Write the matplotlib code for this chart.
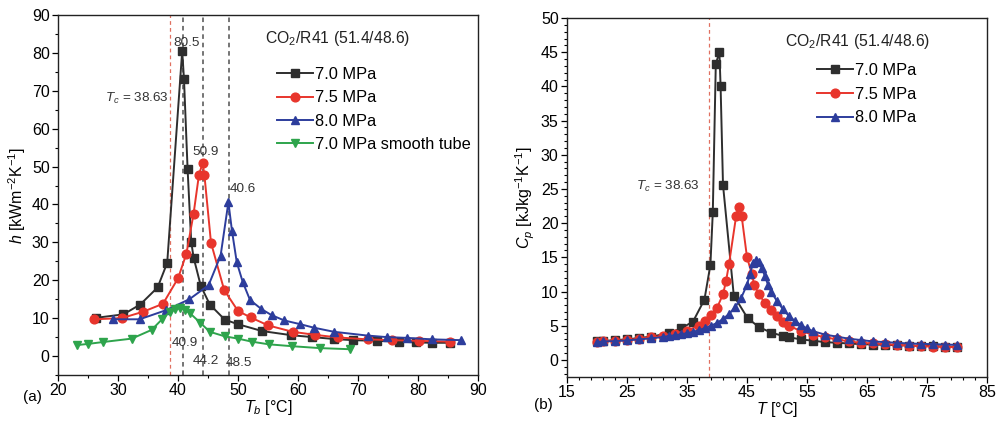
import matplotlib
matplotlib.use("Agg")
import matplotlib.pyplot as plt
from matplotlib.ticker import MultipleLocator

plt.rcParams['font.family'] = ['Liberation Sans', 'DejaVu Sans']
plt.rcParams['mathtext.fontset'] = 'custom'
plt.rcParams['mathtext.rm'] = 'Liberation Sans'
plt.rcParams['mathtext.it'] = 'Liberation Sans:italic'
plt.rcParams['mathtext.bf'] = 'Liberation Sans:bold'

# ---------------- (a) heat transfer coefficient ----------------
a_70_T = [26.4, 30.9, 33.7, 36.6, 38.2, 40.7, 41.0, 41.6, 42.2, 42.6, 43.8, 45.3, 47.8, 50.0,
          54.0, 58.9, 62.4, 66.0, 69.1, 73.2, 76.9, 79.6, 82.4, 85.3]
a_70_h = [10.1, 11.0, 13.6, 18.1, 24.6, 80.5, 73.0, 49.3, 30.2, 26.0, 18.5, 13.6, 9.6, 8.4,
          6.6, 5.5, 5.0, 4.5, 4.2, 4.0, 3.8, 3.6, 3.5, 3.5]

a_75_T = [26.0, 30.6, 34.2, 37.5, 40.0, 41.4, 42.6, 43.5, 44.1, 44.4, 45.5, 47.7, 50.0, 52.1,
          55.0, 59.1, 62.8, 66.7, 71.7, 75.6, 80.2, 85.4]
a_75_h = [9.7, 10.0, 11.7, 13.8, 20.5, 27.0, 37.6, 47.9, 50.9, 47.8, 29.9, 17.4, 11.9, 10.2,
          8.1, 6.4, 5.6, 4.9, 4.4, 4.2, 4.0, 3.8]

a_80_T = [29.1, 33.6, 38.0, 41.9, 45.1, 47.1, 48.4, 49.0, 49.8, 50.8, 52.0, 53.9, 55.6, 57.7,
          60.4, 62.6, 66.0, 71.6, 74.8, 78.1, 82.4, 87.1]
a_80_h = [9.7, 9.7, 12.1, 15.0, 18.7, 26.5, 40.6, 33.0, 24.7, 19.5, 14.8, 12.4, 10.8, 9.4,
          8.4, 7.5, 6.4, 5.4, 5.0, 4.8, 4.4, 4.2]

a_sm_T = [23.2, 25.0, 27.5, 32.3, 35.6, 37.4, 38.6, 39.5, 40.3, 41.2, 42.0, 43.7, 45.3, 47.8,
          50.0, 52.3, 55.1, 59.0, 63.6, 68.7]
a_sm_h = [2.9, 3.2, 3.7, 4.6, 6.9, 9.8, 11.6, 12.3, 12.6, 12.2, 11.3, 8.8, 6.4, 5.2,
          4.6, 3.8, 3.1, 2.6, 2.1, 1.8]

a_labels = ['7.0 MPa', '7.5 MPa', '8.0 MPa', '7.0 MPa smooth tube']
a_peak_lines = [40.9, 44.2, 48.5]
Tc = 38.63

# ---------------- (b) specific heat ----------------
b_70_T = [20, 21, 23, 25, 27, 29, 32, 34, 36, 37.9, 38.9, 39.3, 39.8, 40.4, 40.6, 41.0, 42.8,
          45.1, 47.0, 49.0, 51.0, 52.0, 54, 56, 58, 60, 62, 64, 66, 68, 70, 72, 74, 76, 78, 80]
b_70_cp = [2.7, 2.75, 2.9, 3.0, 3.2, 3.4, 3.9, 4.6, 5.6, 8.8, 13.9, 21.6, 43.3, 45.0, 40.0, 25.6, 9.4,
           6.1, 4.8, 4.0, 3.5, 3.3, 3.0, 2.8, 2.6, 2.5, 2.4, 2.3, 2.25, 2.2, 2.15, 2.1, 2.05, 2.0, 1.95, 1.9]

b_75_T = [20, 21, 23, 25, 27, 29, 31, 33, 35, 37, 38, 39, 40, 41, 41.5, 42, 43.2, 43.6, 44.1,
          45.0, 45.8, 46.2, 47, 48, 49, 50, 51, 52, 54, 56, 58, 60, 62, 64, 66, 68, 70, 72, 74, 76, 78, 80]
b_75_cp = [2.6, 2.7, 2.8, 2.9, 3.1, 3.3, 3.5, 3.8, 4.3, 5.0, 5.7, 6.6, 7.6, 9.6, 11.5, 14.0, 21.1, 22.4, 21.1,
           15.0, 12.6, 11.0, 9.6, 8.3, 7.3, 6.4, 5.6, 5.0, 4.2, 3.7, 3.3, 3.0, 2.7, 2.5, 2.4, 2.3, 2.2, 2.1,
           2.0, 1.95, 1.9, 1.85]

b_80_T = [20, 21, 23, 25, 27, 29, 31, 32, 33, 34, 35, 36, 37, 38, 39, 40, 41, 42, 43, 44, 45, 45.5,
          46, 46.5, 47, 47.5, 48, 48.5, 49, 50, 51, 52, 53, 54, 55, 56, 58, 60, 62, 64, 66, 68, 70, 72,
          74, 76, 78, 80]
b_80_cp = [2.6, 2.7, 2.75, 2.85, 3.0, 3.15, 3.35, 3.5, 3.6, 3.75, 3.9, 4.1, 4.35, 4.65, 5.0, 5.4, 6.0,
           6.7, 7.7, 9.0, 11.0, 12.6, 14.1, 14.6, 14.3, 13.4, 12.2, 11.0, 10.0, 8.6, 7.4, 6.4, 5.7, 5.1,
           4.6, 4.2, 3.7, 3.4, 3.1, 2.9, 2.7, 2.6, 2.5, 2.4, 2.35, 2.3, 2.25, 2.2]

b_labels = ['7.0 MPa', '7.5 MPa', '8.0 MPa']
b_xticks = [15, 25, 35, 45, 55, 65, 75, 85]

c_black = '#2e2e2e'
c_red = '#e8352c'
c_blue = '#2d3d9c'
c_green = '#2ea44c'
c_tc = '#e07060'
c_dash = '#505050'

fig = plt.figure(figsize=(9.96, 4.23), dpi=100)
ax1 = fig.add_axes([58/996, 1-375/423, 420/996, 360/423])
ax2 = fig.add_axes([567/996, 1-377/423, 420/996, 359/423])

lw = 1.4
ms = 5.5
fs_leg = 11.8

# ---- panel a
for x in a_peak_lines:
    ax1.axvline(x, color=c_dash, ls=(0, (3, 2.5)), lw=1.1, zorder=1)
ax1.axvline(Tc, color=c_tc, ls=(0, (3, 2.5)), lw=0.9, zorder=1)

ax1.plot(a_70_T, a_70_h, '-s', color=c_black, lw=lw, ms=ms, label=a_labels[0], zorder=3)
ax1.plot(a_75_T, a_75_h, '-o', color=c_red, lw=lw, ms=ms + 0.8, label=a_labels[1], zorder=3)
ax1.plot(a_80_T, a_80_h, '-^', color=c_blue, lw=lw, ms=ms + 0.8, label=a_labels[2], zorder=3)
ax1.plot(a_sm_T, a_sm_h, '-v', color=c_green, lw=lw, ms=ms + 0.8, label=a_labels[3], zorder=3)

ax1.set_xlim(20, 90)
ax1.set_ylim(-5, 90)
ax1.xaxis.set_major_locator(MultipleLocator(10))
ax1.xaxis.set_minor_locator(MultipleLocator(5))
ax1.yaxis.set_major_locator(MultipleLocator(10))
ax1.yaxis.set_minor_locator(MultipleLocator(5))
ax1.set_xlabel(r'$T_b$ [°C]', fontsize=11.5, labelpad=0)
ax1.set_ylabel(r'$h$ [kWm$^{-2}$K$^{-1}$]', fontsize=11.5, labelpad=3)

fs_ann = 9.7
ax1.text(41.4, 82.6, '80.5', fontsize=fs_ann, ha='center', va='center', color='#333333')
ax1.text(38.5, 68.0, r'$T_c$ = 38.63', fontsize=fs_ann, ha='right', va='center', color='#333333')
ax1.text(44.6, 53.9, '50.9', fontsize=fs_ann, ha='center', va='center', color='#333333')
ax1.text(48.7, 44.2, '40.6', fontsize=fs_ann, ha='left', va='center', color='#333333')
ax1.text(41.2, 3.4, '40.9', fontsize=fs_ann, ha='center', va='center', color='#333333')
ax1.text(44.6, -1.2, '44.2', fontsize=fs_ann, ha='center', va='center', color='#333333')
ax1.text(50.2, -1.9, '48.5', fontsize=fs_ann, ha='center', va='center', color='#333333')
ax1.text(54.5, 83.8, r'CO$_2$/R41 (51.4/48.6)', fontsize=11.3, ha='left', va='center', color='#222222')

leg1 = ax1.legend(loc='upper left', bbox_to_anchor=(0.521, 0.855), frameon=False, fontsize=fs_leg,
                  handlelength=2.2, handletextpad=0.15, labelspacing=0.5, borderpad=0,
                  borderaxespad=0)

# ---- panel b
ax2.axvline(Tc, color=c_tc, ls=(0, (3, 2.5)), lw=0.9, zorder=1)
ax2.plot(b_70_T, b_70_cp, '-s', color=c_black, lw=lw, ms=ms, label=b_labels[0], zorder=3)
ax2.plot(b_75_T, b_75_cp, '-o', color=c_red, lw=lw, ms=ms + 0.8, label=b_labels[1], zorder=3)
ax2.plot(b_80_T, b_80_cp, '-^', color=c_blue, lw=lw, ms=ms + 0.8, label=b_labels[2], zorder=3)

ax2.set_xlim(15, 85)
ax2.set_ylim(-2.5, 50)
ax2.set_xticks(b_xticks)
ax2.xaxis.set_minor_locator(MultipleLocator(2, offset=1))
ax2.yaxis.set_major_locator(MultipleLocator(5))
ax2.yaxis.set_minor_locator(MultipleLocator(1))
ax2.set_xlabel(r'$T$ [°C]', fontsize=11.5, labelpad=0)
ax2.set_ylabel(r'$C_p$ [kJkg$^{-1}$K$^{-1}$]', fontsize=11.5, labelpad=3)
ax2.text(37.2, 25.3, r'$T_c$ = 38.63', fontsize=fs_ann, ha='right', va='center', color='#333333')
ax2.text(51.4, 46.6, r'CO$_2$/R41 (51.4/48.6)', fontsize=11.3, ha='left', va='center', color='#222222')

leg2 = ax2.legend(loc='upper left', bbox_to_anchor=(0.595, 0.874), frameon=False, fontsize=fs_leg,
                  handlelength=2.2, handletextpad=0.15, labelspacing=0.52, borderpad=0,
                  borderaxespad=0)

for ax in (ax1, ax2):
    ax.tick_params(which='major', direction='out', length=4, width=0.9, labelsize=11.5,
                   top=False, right=False, pad=2)
    ax.tick_params(which='minor', direction='out', length=2.2, width=0.8, top=False, right=False)
    for s in ax.spines.values():
        s.set_linewidth(1.0)
        s.set_color('#222222')

fig.text(32/996, 1-397/423, '(a)', fontsize=11, ha='center', va='center')
fig.text(543/996, 1-405/423, '(b)', fontsize=11, ha='center', va='center')

fig.savefig('out.png', dpi=100)
